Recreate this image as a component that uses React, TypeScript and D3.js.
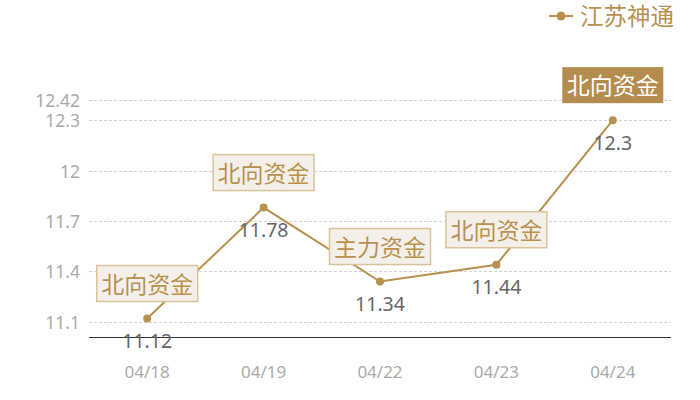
import React from "react";
import * as d3 from "d3";

const dates = ["04/18", "04/19", "04/22", "04/23", "04/24"];
const prices = [11.12, 11.78, 11.34, 11.44, 12.3];
const notes = ["北向资金", "北向资金", "主力资金", "北向资金", "北向资金"];
const highlighted = [false, false, false, false, true];
const yTicks = [11.1, 11.4, 11.7, 12, 12.3, 12.42];
const seriesName = "江苏神通";

const W = 700;
const H = 400;
const left = 89;
const right = 671;
const top = 100;
const bottom = 337;
const gold = "#b8904f";
const font = "'Noto Sans', 'Noto Sans CJK SC', sans-serif";

const App: React.FC = () => {
  const x = d3.scalePoint<string>().domain(dates).range([left, right]).padding(0.5);
  const y = d3.scaleLinear().domain([11.01, 12.42]).range([bottom, top]);

  const line = d3
    .line<number>()
    .x((_, i) => x(dates[i])!)
    .y((d) => y(d));

  const boxW = 101;
  const boxH = 36;

  return (
    <svg
      width={W}
      height={H}
      style={{ position: "absolute", top: 0, left: 0, fontFamily: font }}
    >
      {/* grid + y labels */}
      {yTicks.map((t) => (
        <g key={t}>
          <line
            x1={left}
            x2={right}
            y1={Math.round(y(t)) + 0.5}
            y2={Math.round(y(t)) + 0.5}
            stroke="#d2d2d2"
            strokeDasharray="3,2"
            strokeWidth={1}
          />
          <text
            x={80}
            y={y(t)}
            textAnchor="end"
            dominantBaseline="central"
            fontSize={17.5}
            fill="#aaaaaa"
          >
            {t}
          </text>
        </g>
      ))}
      <line x1={left} x2={right} y1={bottom + 0.5} y2={bottom + 0.5} stroke="#333" strokeWidth={1} />
      {dates.map((d) => (
        <text
          key={d}
          x={x(d)}
          y={371}
          textAnchor="middle"
          dominantBaseline="central"
          fontSize={17}
          fill="#aaaaaa"
        >
          {d}
        </text>
      ))}

      <path d={line(prices)!} fill="none" stroke={gold} strokeWidth={2} />

      {prices.map((p, i) => {
        const cx = x(dates[i])!;
        const cy = y(p);
        const by = cy - 17 - boxH;
        return (
          <g key={i}>
            <circle cx={cx} cy={cy} r={4} fill={gold} />
            <text
              x={cx}
              y={cy + 22}
              textAnchor="middle"
              dominantBaseline="central"
              fontSize={19.5}
              fill="#666666"
            >
              {p}
            </text>
            <rect
              x={cx - boxW / 2}
              y={by}
              width={boxW}
              height={boxH}
              fill={highlighted[i] ? "#b58c4f" : "#f4f0e9"}
              stroke={highlighted[i] ? "none" : "#d9c39c"}
              strokeWidth={1.5}
            />
            <text
              x={cx}
              y={by + boxH / 2}
              textAnchor="middle"
              dominantBaseline="central"
              fontSize={23}
              fill={highlighted[i] ? "#ffffff" : gold}
            >
              {notes[i]}
            </text>
          </g>
        );
      })}

      {/* legend */}
      <line x1={549} x2={573} y1={16} y2={16} stroke={gold} strokeWidth={2} />
      <circle cx={561} cy={16} r={4.5} fill={gold} />
      <text x={580} y={16} dominantBaseline="central" fontSize={23.5} fill={gold}>
        {seriesName}
      </text>
    </svg>
  );
};

export default App;
